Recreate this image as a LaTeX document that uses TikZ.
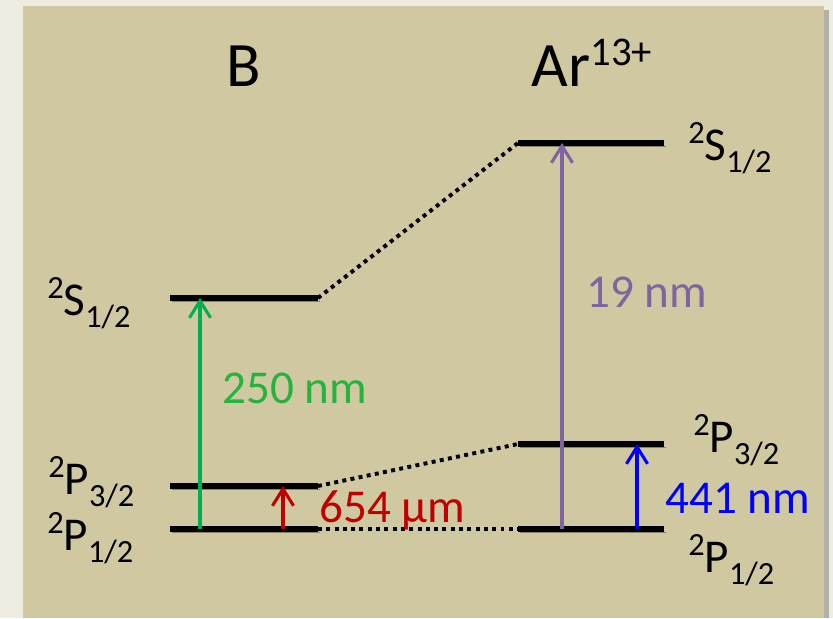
\documentclass[tikz,border=0pt]{standalone}
\usepackage{fontspec}
\setmainfont{Carlito}
\usetikzlibrary{arrows.meta}

\definecolor{panel}{RGB}{208,200,161}
\definecolor{paper}{RGB}{238,235,225}
\definecolor{lgreen}{RGB}{0,176,80}
\definecolor{tgreen}{RGB}{36,180,60}
\definecolor{lred}{RGB}{192,0,0}
\definecolor{lpurple}{RGB}{128,100,162}
\definecolor{lblue}{RGB}{0,0,255}

% term symbol: ^{2S+1}L_{J}
\newcommand{\term}[3]{\raisebox{12pt}{\fontsize{23}{23}\selectfont #1}#2\raisebox{-9pt}{\fontsize{23}{23}\selectfont #3}}

\begin{document}
\begin{tikzpicture}[
  x=0.025cm, y=-0.025cm,
  level/.style={line width=3.8pt, preaction={draw=black, opacity=0.35, transform canvas={shift={(1.6pt,-2.6pt)}}}},
  link/.style={line width=2.8pt, dash pattern=on 2.8pt off 3.1pt},
  trans/.style={line width=2.2pt, -{Straight Barb[length=12pt,width=15pt,line width=2.2pt]}},
  lbl/.style={font=\fontsize{33.5}{36}\selectfont, anchor=base west, inner sep=0pt},
  title/.style={font=\fontsize{45}{50}\selectfont, anchor=base, inner sep=0pt}
]

% Background
\fill[paper] (0,0) rectangle (833,618);
\fill[black, opacity=0.25] (27,10) rectangle (829,618);
\fill[panel] (23,6) rectangle (824,618);
\useasboundingbox (0,0) rectangle (833,618);

% Titles
\node[title] (tB)  at (244,86) {B};
\node[title] (tAr) at (592,86) {Ar\raisebox{14.5pt}{\fontsize{29}{29}\selectfont 13+}};

% Levels of B
\coordinate (bS1) at (170,298); \coordinate (bS2) at (318,298);
\coordinate (bT1) at (170,486); \coordinate (bT2) at (318,486);
\coordinate (bP1) at (170,529); \coordinate (bP2) at (318,529);
\draw[level] (bS1) -- (bS2);
\draw[level] (bT1) -- (bT2);
\draw[level] (bP1) -- (bP2);

% Levels of Ar13+
\coordinate (aS1) at (518,143); \coordinate (aS2) at (664,143);
\coordinate (aT1) at (518,444); \coordinate (aT2) at (664,444);
\coordinate (aP1) at (518,529); \coordinate (aP2) at (664,529);
\draw[level] (aS1) -- (aS2);
\draw[level] (aT1) -- (aT2);
\draw[level] (aP1) -- (aP2);

% Correlation lines
\draw[link] (bS2) -- (aS1);
\draw[link] (bT2) -- (aT1);
\draw[link] (bP2) -- (aP1);

% Level labels
\node[lbl] (lbS) at (47,315) {\term{2}{S}{1/2}};
\node[lbl] (lbT) at (48,494) {\term{2}{P}{3/2}};
\node[lbl] (lbP) at (47,550) {\term{2}{P}{1/2}};
\node[lbl] (laS) at (688,160) {\term{2}{S}{1/2}};
\node[lbl] (laT) at (693,452) {\term{2}{P}{3/2}};
\node[lbl] (laP) at (688,572) {\term{2}{P}{1/2}};

% Transitions in B
\coordinate (g0) at (200,529);
\draw[trans, lgreen] (g0) -- (g0 |- bS1);
\node[lbl, text=tgreen] (gl) at (222,403) {250 nm};
\coordinate (r0) at (283,529);
\draw[trans, lred] (r0) -- (r0 |- bT1);
\node[lbl, text=lred] (rl) at (319,522) {654 µm};

% Transitions in Ar13+
\coordinate (p0) at (562,529);
\draw[trans, lpurple] (p0) -- (p0 |- aS1);
\node[lbl, text=lpurple] (pl) at (586,307) {19 nm};
\coordinate (u0) at (637,529);
\draw[trans, lblue] (u0) -- (u0 |- aT1);
\node[lbl, text=lblue] (ul) at (665,513) {441 nm};

\end{tikzpicture}
\end{document}
